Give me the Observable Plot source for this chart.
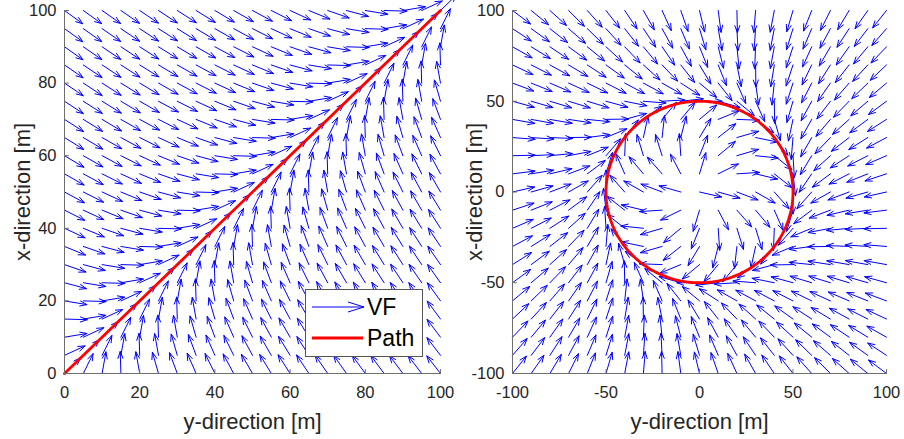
<!DOCTYPE html>
<html>
<head>
<meta charset="utf-8">
<script src="https://cdn.jsdelivr.net/npm/d3@7"></script>
<script src="https://cdn.jsdelivr.net/npm/@observablehq/plot@0.6"></script>
<style>
  body { margin: 0; background: #fff; font-family: "Liberation Sans", Arial, Helvetica, sans-serif; }
  #fig { position: relative; width: 904px; height: 439px; overflow: hidden; }
  #fig svg.panel { position: absolute; top: 0; }
  .legend { position: absolute; left: 305px; top: 289px; width: 116px; height: 66px;
            border: 1px solid #555; background: #fff; color: #000; }
  .legend svg { position: absolute; left: 0; top: 0; }
  .legend span { position: absolute; left: 61px; font-size: 23px; line-height: 23px; }
</style>
</head>
<body>
<div id="fig"></div>
<script>
// Sample grids for the quiver plots [m]
const lineGrid = [0, 5, 10, 15, 20, 25, 30, 35, 40, 45, 50, 55, 60, 65, 70, 75, 80, 85, 90, 95, 100];
const orbitGrid = [-100, -90, -80, -70, -60, -50, -40, -30, -20, -10, 0, 10, 20, 30, 40, 50, 60, 70, 80, 90, 100];

// Axis ticks
const lineTicks = [0, 20, 40, 60, 80, 100];
const orbitTicks = [-100, -50, 0, 50, 100];

// Straight-line path (east, north) and its vector-field gain [1/m]
const lineStart = [0, 0];
const lineEnd = [100, 100];
const lineGain = 0.1;

// Circular orbit: centre, radius [m], gain [1/m], direction (+1 = clockwise)
const orbitCenter = [0, 0];
const orbitRadius = 50;
const orbitGain = 0.086;
const orbitDir = 1;

// Text
const xLabel = "y-direction [m]";
const yLabel = "x-direction [m]";
const legendLabels = ["VF", "Path"];

const blue = "#0000ff";
const red = "#ff0000";
const axisColor = "#6e6e6e";

// quiver-style autoscale: unit vectors scaled to 0.9 of the diagonal grid spacing
function arrowLength(grid) {
  return 0.9 * Math.SQRT2 * (d3.max(grid) - d3.min(grid)) / grid.length;
}

// Straight-line guidance field: course = path angle - atan(k * cross-track error)
function lineField() {
  const L = arrowLength(lineGrid);
  const alpha = Math.atan2(lineEnd[1] - lineStart[1], lineEnd[0] - lineStart[0]);
  const out = [];
  for (const y of lineGrid) for (const x of lineGrid) {
    const e = -(x - lineStart[0]) * Math.sin(alpha) + (y - lineStart[1]) * Math.cos(alpha);
    const th = alpha - Math.atan(lineGain * e);
    out.push({x, y, x2: x + L * Math.cos(th), y2: y + L * Math.sin(th)});
  }
  return out;
}

// Orbit guidance field: course = bearing - dir * (pi/2 + atan(k * (d - R)))
function orbitField() {
  const L = arrowLength(orbitGrid);
  const out = [];
  for (const y of orbitGrid) for (const x of orbitGrid) {
    const dx = x - orbitCenter[0], dy = y - orbitCenter[1];
    const d = Math.hypot(dx, dy);
    const phi = Math.atan2(dy, dx);
    const th = phi - orbitDir * (Math.PI / 2 + Math.atan(orbitGain * (d - orbitRadius)));
    out.push({x, y, x2: x + L * Math.cos(th), y2: y + L * Math.sin(th)});
  }
  return out;
}

// Circle outline of the orbit path
const orbitPath = d3.range(0, 361, 2).map(a => [
  orbitCenter[0] + orbitRadius * Math.cos(a * Math.PI / 180),
  orbitCenter[1] + orbitRadius * Math.sin(a * Math.PI / 180)
]);

// Inward tick marks
const tickShape = {draw(ctx, l) { ctx.moveTo(0, 0); ctx.lineTo(0, -l); }};
const plainNumber = d => String(d);

function axesMarks(ticks, lo) {
  return [
    Plot.ruleX([lo], {stroke: axisColor, strokeWidth: 1}),
    Plot.ruleY([lo], {stroke: axisColor, strokeWidth: 1}),
    Plot.vector(ticks, {x: d => d, y: () => lo, length: 4, rotate: 0, anchor: "start",
      shape: tickShape, stroke: axisColor, strokeWidth: 1}),
    Plot.vector(ticks, {x: () => lo, y: d => d, length: 4, rotate: 90, anchor: "start",
      shape: tickShape, stroke: axisColor, strokeWidth: 1}),
    Plot.axisX(ticks, {anchor: "bottom", tickSize: 0, tickPadding: 13, fontSize: 16.5, label: null, tickFormat: plainNumber}),
    Plot.axisY(ticks, {anchor: "left", tickSize: 0, tickPadding: 8, fontSize: 16.5, label: null, tickFormat: plainNumber}),
  ];
}

function labelMarks(dxY) {
  return [
    Plot.text([xLabel], {frameAnchor: "bottom", text: d => d, dy: 55, lineAnchor: "bottom",
      textAnchor: "middle", fontSize: 22, fill: "#262626"}),
    Plot.text([yLabel], {frameAnchor: "left", text: d => d, rotate: -90, dx: dxY, lineAnchor: "bottom",
      textAnchor: "middle", fontSize: 22, fill: "#262626"}),
  ];
}

const common = {
  height: 439,
  marginTop: 10,
  marginBottom: 66,
  style: {fontFamily: '"Liberation Sans", Arial, Helvetica, sans-serif', color: "#262626", background: "transparent", overflow: "visible"}
};

const left = Plot.plot({
  ...common,
  width: 460, marginLeft: 64, marginRight: 20,
  x: {domain: [0, 100]},
  y: {domain: [0, 100]},
  marks: [
    Plot.arrow(lineField(), {x1: "x", y1: "y", x2: "x2", y2: "y2", stroke: blue, strokeWidth: 1,
      headLength: 11, headAngle: 40, bend: 0}),
    Plot.line([lineStart, lineEnd], {x: d => d[0], y: d => d[1], stroke: red, strokeWidth: 2.8}),
    ...axesMarks(lineTicks, 0),
    ...labelMarks(-35)
  ]
});

const right = Plot.plot({
  ...common,
  width: 452, marginLeft: 60, marginRight: 18,
  x: {domain: [-100, 100]},
  y: {domain: [-100, 100]},
  marks: [
    Plot.arrow(orbitField(), {x1: "x", y1: "y", x2: "x2", y2: "y2", stroke: blue, strokeWidth: 1,
      headLength: 11, headAngle: 40, bend: 0}),
    Plot.line(orbitPath, {x: d => d[0], y: d => d[1], stroke: red, strokeWidth: 2.8}),
    ...axesMarks(orbitTicks, -100),
    ...labelMarks(-31)
  ]
});

const fig = document.getElementById("fig");
left.classList.add("panel");
right.classList.add("panel");
left.style.left = "0px";
right.style.left = "452px";
fig.appendChild(left);
fig.appendChild(right);

// Legend for the left panel
const legend = document.createElement("div");
legend.className = "legend";
legend.innerHTML = `
  <svg width="116" height="66">
    <path d="M6,17H58M42,12L58,17L42,22" fill="none" stroke="${blue}" stroke-width="1"/>
    <path d="M6,48H57" stroke="${red}" stroke-width="2.8"/>
  </svg>
  <span style="top:6px">${legendLabels[0]}</span>
  <span style="top:37px">${legendLabels[1]}</span>`;
fig.appendChild(legend);
</script>
</body>
</html>
